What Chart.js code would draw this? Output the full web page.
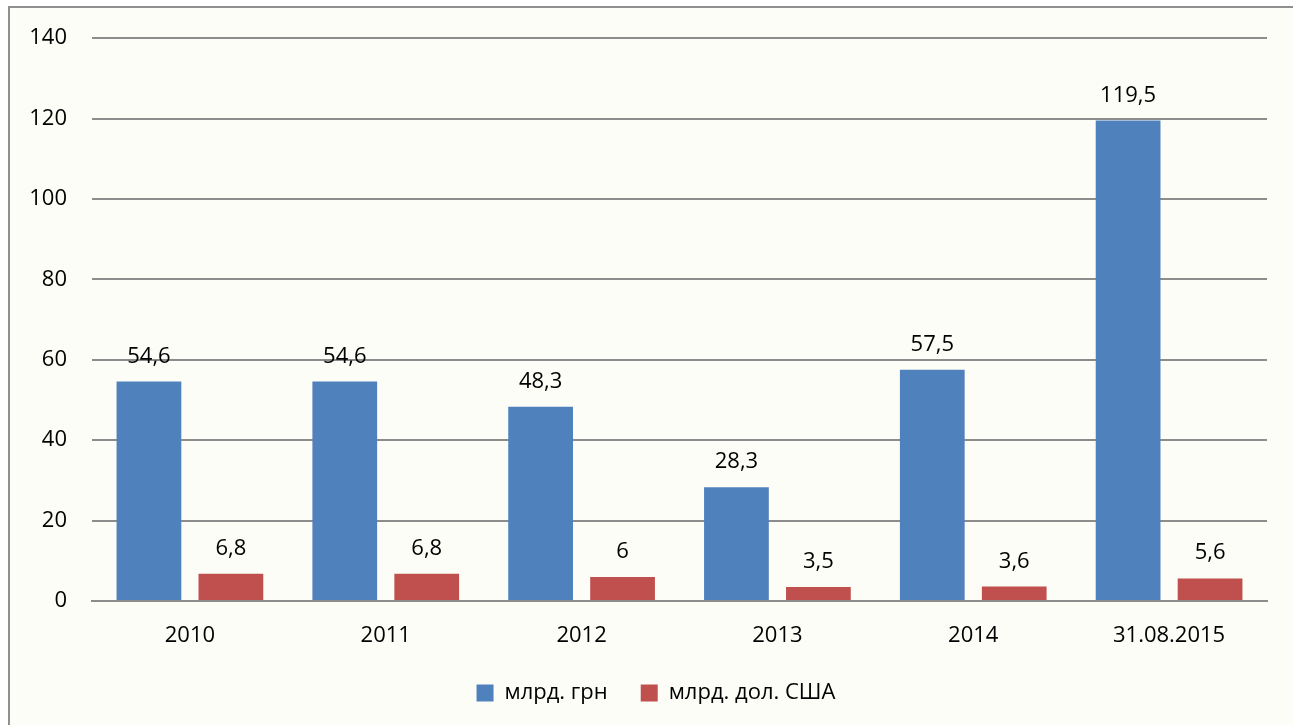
<!DOCTYPE html>
<html>
<head>
<meta charset="utf-8">
<script src="https://cdn.jsdelivr.net/npm/chart.js@4.4.1/dist/chart.umd.min.js"></script>
<style>
  html, body { margin: 0; padding: 0; background: #ffffff; width: 1293px; height: 725px; overflow: hidden; }
  #frame { position: absolute; left: 8px; top: 6px; width: 1300px; height: 730px; background: #fdfdf8; border-left: 2px solid #8f8f8f; border-top: 2px solid #8f8f8f; box-sizing: border-box; }
  #c { position: absolute; left: 0; top: 0; }
</style>
</head>
<body>
<div id="frame"></div>
<canvas id="c" width="1293" height="725"></canvas>
<script>
const categories = ['2010', '2011', '2012', '2013', '2014', '31.08.2015'];
const seriesNames = ['млрд. грн', 'млрд. дол. США'];
const uahValues = [54.6, 54.6, 48.3, 28.3, 57.5, 119.5];
const usdValues = [6.8, 6.8, 6.0, 3.5, 3.6, 5.6];
const yTicks = [0, 20, 40, 60, 80, 100, 120, 140];

const FONT = "'Open Sans', sans-serif";
const FS = 22;

const valueLabels = {
  id: 'valueLabels',
  afterDatasetsDraw(chart) {
    const ctx = chart.ctx;
    ctx.save();
    ctx.font = FS + 'px ' + FONT;
    ctx.fillStyle = '#000';
    ctx.textAlign = 'center';
    ctx.textBaseline = 'alphabetic';
    chart.data.datasets.forEach((ds, i) => {
      chart.getDatasetMeta(i).data.forEach((bar, j) => {
        const v = ds.data[j];
        const txt = String(v).replace('.', ',');
        ctx.fillText(txt, bar.x, bar.y - 19);
      });
    });
    ctx.restore();
  }
};

new Chart(document.getElementById('c'), {
  type: 'bar',
  data: {
    labels: categories,
    datasets: [
      { label: seriesNames[0], data: uahValues, backgroundColor: '#4f81bd', barPercentage: 0.79, categoryPercentage: 0.837 },
      { label: seriesNames[1], data: usdValues, backgroundColor: '#c0504d', barPercentage: 0.79, categoryPercentage: 0.837 }
    ]
  },
  options: {
    responsive: false,
    animation: false,
    layout: { padding: { top: 36, right: -19, left: 0, bottom: 11 } },
    plugins: {
      legend: {
        position: 'bottom',
        labels: { font: { family: FONT, size: FS }, color: '#000', boxWidth: 17, boxHeight: 17, padding: 33 }
      },
      tooltip: { enabled: false }
    },
    scales: {
      x: {
        grid: { display: false, drawTicks: false },
        border: { display: true, color: '#8c8c8c', width: 2 },
        ticks: { font: { family: FONT, size: FS }, color: '#000', padding: 22 },
        afterFit(scale) { scale.height = 48; }
      },
      y: {
        min: 0, max: 140,
        afterBuildTicks(scale) { scale.ticks = yTicks.map(v => ({ value: v })); },
        grid: { color: '#8c8c8c', lineWidth: 2, drawTicks: false },
        border: { display: false },
        ticks: { font: { family: FONT, size: FS }, color: '#000', padding: 25 },
        afterFit(scale) { scale.width = 92; }
      },
      yRight: {
        position: 'right',
        display: true,
        grid: { display: false, drawTicks: false },
        border: { display: false },
        ticks: { display: false },
        afterFit(scale) { scale.width = 45; }
      }
    }
  },
  plugins: [valueLabels]
});
</script>
</body>
</html>
